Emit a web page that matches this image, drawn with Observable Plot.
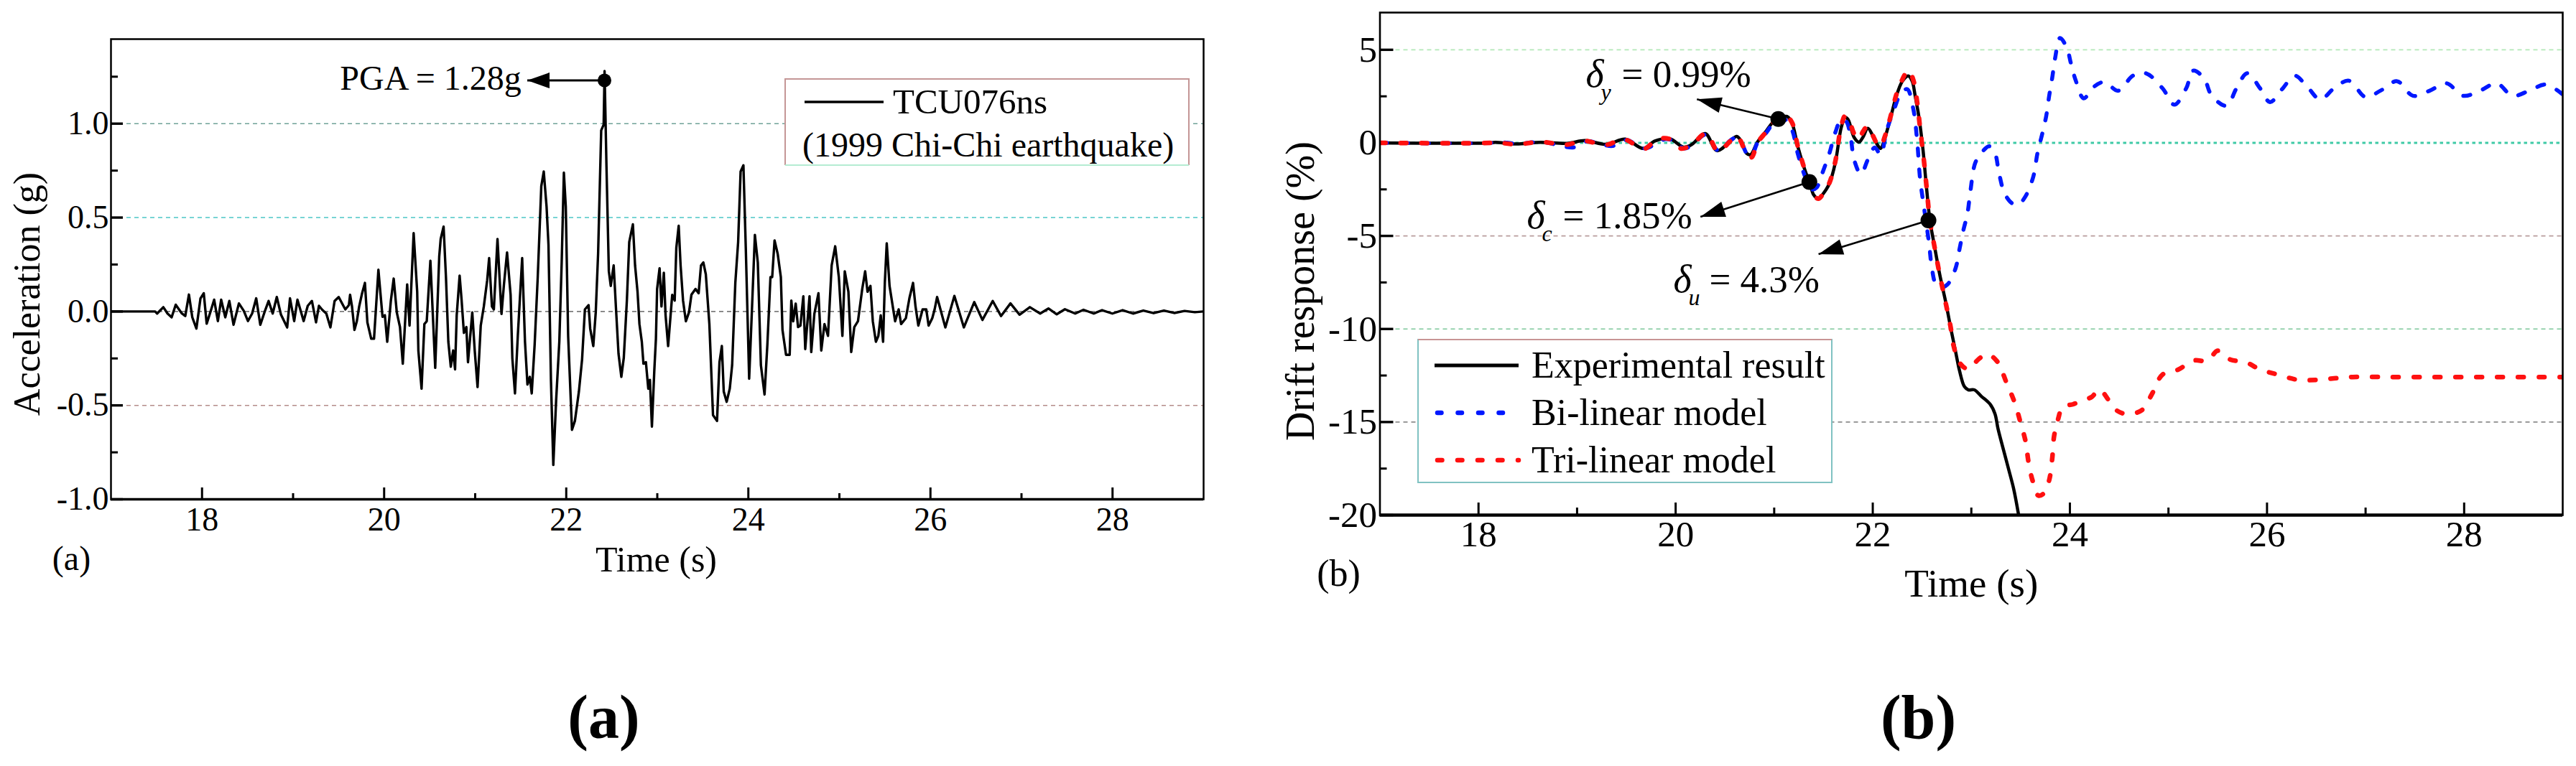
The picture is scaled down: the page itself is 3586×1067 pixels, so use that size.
<!DOCTYPE html>
<html>
<head>
<meta charset="utf-8">
<script src="https://cdn.jsdelivr.net/npm/d3@7"></script>
<script src="https://cdn.jsdelivr.net/npm/@observablehq/plot@0.6"></script>
<style>
  html, body { margin: 0; padding: 0; background: #fff; }
  #wrap { position: relative; width: 3586px; height: 1067px; overflow: hidden; background: #fff; }
  #wrap > svg { position: absolute; top: 0; }
</style>
</head>
<body>
<div id="wrap"></div>
<script>
// ---------------- DATA ----------------
const timeDomain = [17, 29];
const timeMajor = [18, 20, 22, 24, 26, 28];
const timeMinor = [19, 21, 23, 25, 27];

const accDomain = [-1, 1.45];
const accMajor = [-1.0, -0.5, 0, 0.5, 1.0];
const accMinor = [-0.75, -0.25, 0.25, 0.75, 1.25];
const accGridValues = [-0.5, 0, 0.5, 1.0];

const driftDomain = [-20, 7];
const driftMajor = [-20, -15, -10, -5, 0, 5];
const driftMinor = [-17.5, -12.5, -7.5, -2.5, 2.5];
const driftGridValues = [-15, -10, -5, 0, 5];

// TCU076ns ground acceleration (g) vs time (s)
const accel = [
[17,0],[17.485,0],[17.507,-0.011],[17.575,0.023],[17.621,-0.011],[17.666,-0.031],[17.711,0.036],[17.779,-0.011],[17.816,-0.024],[17.856,0.09],[17.893,-0.031],[17.938,-0.091],[17.983,0.07],[18.019,0.097],[18.051,-0.065],[18.096,0.003],[18.133,0.063],[18.174,-0.051],[18.21,0.063],[18.255,-0.031],[18.3,0.056],[18.346,-0.071],[18.405,0.043],[18.459,0.003],[18.504,-0.051],[18.55,-0.011],[18.595,0.07],[18.64,-0.071],[18.686,-0.004],[18.731,0.056],[18.776,-0.011],[18.821,0.077],[18.867,-0.017],[18.935,-0.085],[18.966,0.07],[19.012,-0.051],[19.048,0.063],[19.116,-0.051],[19.161,0.03],[19.207,0.056],[19.252,-0.058],[19.284,0.03],[19.32,0.009],[19.365,-0.011],[19.41,-0.085],[19.456,0.056],[19.501,0.077],[19.546,0.036],
[19.574,0.011],[19.613,0.034],[19.626,0.089],[19.647,0.027],[19.674,-0.098],[19.7,-0.052],[19.726,0.027],[19.758,0.097],[19.789,0.152],[19.816,-0.058],[19.858,-0.145],[19.889,-0.145],[19.937,0.222],[19.982,-0.028],[20.008,-0.02],[20.034,-0.161],[20.074,0.058],[20.105,0.175],[20.139,-0.005],[20.174,-0.083],[20.205,-0.278],[20.253,0.144],[20.279,-0.075],[20.324,0.417],[20.363,0.105],[20.376,-0.208],[20.411,-0.411],[20.442,-0.067],[20.468,-0.052],[20.508,0.27],[20.561,-0.3],[20.605,0.292],[20.621,0.386],[20.653,0.452],[20.679,0.183],[20.705,-0.161],[20.732,-0.294],[20.758,-0.208],[20.779,-0.308],[20.797,-0.02],[20.829,0.191],[20.85,0.066],[20.876,-0.114],[20.903,-0.083],[20.921,-0.27],[20.968,-0.005],[20.995,-0.208],[21.026,-0.402],[21.061,-0.075],[21.095,0.027],[21.132,0.167],[21.153,0.284],[21.184,0.027],[21.205,0.011],[21.245,0.386],[21.289,-0.013],[21.316,0.144],[21.35,0.314],[21.389,0.089],[21.408,-0.248],[21.437,-0.436],[21.468,-0.13],[21.516,0.284],[21.547,-0.161],[21.574,-0.389],[21.6,-0.348],[21.621,-0.436],[21.653,-0.177],[21.687,0.183],[21.726,0.667],[21.753,0.745],[21.784,0.558],[21.805,0.355],[21.832,-0.364],[21.858,-0.817],[21.889,-0.473],[21.924,-0.161],[21.95,0.261],[21.974,0.739],[21.995,0.558],[22.021,-0.13],[22.063,-0.63],[22.095,-0.583],[22.139,-0.427],[22.174,-0.255],[22.205,0.011],[22.245,0.034],[22.263,-0.091],[22.297,-0.184],[22.324,-0.005],[22.35,0.308],[22.384,0.964],[22.411,0.995],[22.421,1.28],[22.442,0.77],[22.468,0.214],[22.489,0.136],[22.521,0.245],[22.547,0.011],[22.574,-0.224],[22.605,-0.348],[22.632,-0.247],[22.666,0.058],[22.692,0.37],[22.732,0.464],
[22.756,0.245],[22.783,0.105],[22.804,-0.067],[22.83,-0.161],[22.848,-0.278],[22.875,-0.27],[22.901,-0.411],[22.919,-0.364],[22.941,-0.613],[22.967,-0.317],[22.985,-0.145],[22.998,0.12],[23.025,0.23],[23.046,0.027],[23.072,0.206],[23.091,-0.02],[23.119,-0.184],[23.164,0.089],[23.191,0.058],[23.209,0.339],[23.235,0.456],[23.256,0.245],[23.283,0.058],[23.314,-0.052],[23.348,-0.005],[23.375,0.089],[23.42,0.12],[23.454,0.097],[23.48,0.245],[23.506,0.261],[23.533,0.198],[23.572,-0.067],[23.612,-0.552],[23.656,-0.583],[23.683,-0.27],[23.709,-0.184],[23.73,-0.427],[23.762,-0.481],[23.796,-0.411],[23.822,-0.286],[23.857,0.152],[23.888,0.37],[23.915,0.745],[23.946,0.778],[23.972,0.338],[24.009,-0.358],[24.041,0.027],[24.072,0.408],[24.104,0.261],[24.138,-0.286],[24.178,-0.442],[24.209,-0.177],[24.243,0.183],[24.262,0.183],[24.288,0.378],[24.322,0.308],[24.357,0.183],[24.375,-0.098],[24.414,-0.231],[24.454,-0.231],[24.472,0.058],[24.493,-0.052],[24.52,0.042],[24.546,-0.083],[24.572,-0.075],[24.604,0.081],[24.625,-0.2],[24.672,0.081],[24.691,-0.216],[24.725,-0.013],[24.77,0.097],[24.801,-0.208],[24.836,-0.067],[24.875,-0.13],[24.915,0.245],[24.954,0.347],[24.994,0.183],[25.033,-0.13],[25.059,0.214],[25.099,0.105],[25.13,-0.216],[25.164,-0.083],[25.204,-0.052],[25.251,0.12],[25.283,0.214],[25.309,0.105],[25.341,0.136],[25.367,-0.052],[25.401,-0.161],[25.428,-0.13],[25.454,-0.02],[25.48,-0.161],[25.499,0.152],[25.52,0.363],[25.551,0.136],[25.586,0.027],[25.612,-0.052],[25.651,0.011],[25.678,-0.067],[25.73,-0.036],[25.77,0.073],[25.809,0.152],[25.836,0.027],[25.867,-0.075],[25.914,0.011],[25.954,0.011],[25.98,-0.075],[26.02,-0.036],[26.046,0.011],
[26.073,0.077],[26.164,-0.085],[26.263,0.083],[26.367,-0.085],[26.481,0.05],[26.571,-0.045],[26.684,0.056],[26.775,-0.024],[26.879,0.043],[26.979,-0.017],[27.092,0.023],[27.205,-0.011],[27.296,0.016],[27.387,-0.015],[27.477,0.012],[27.59,-0.011],[27.681,0.009],[27.794,-0.011],[27.885,0.007],[27.998,-0.011],[28.111,0.007],[28.225,-0.011],[28.338,0.005],[28.451,-0.009],[28.564,0.005],[28.677,-0.008],[28.791,0.003],[28.904,-0.004],[29,0]
];

// Drift response (%) vs time (s)
const driftExperimental = [
[17,0],[18.13,0],[18.17,0.03],[18.38,-0.06],[18.63,0.03],[18.9,-0.03],[19.08,0.12],[19.3,-0.08],[19.49,0.2],[19.67,-0.3],[19.79,0.1],[19.94,0.22],[20.08,-0.23],[20.16,-0.1],[20.3,0.5],[20.42,-0.42],[20.56,0.13],[20.62,0.35],[20.66,0.13],[20.72,-0.56],[20.76,-0.64],[20.83,0.04],[20.92,0.64],[20.98,1.07],[21.04,1.3],[21.13,1.42],[21.18,1.07],[21.24,-0.21],[21.32,-1.59],[21.36,-2.1],[21.4,-2.79],[21.45,-3.01],[21.5,-2.71],[21.56,-2.19],[21.62,-1.07],[21.68,0.82],[21.72,1.37],[21.75,1.25],[21.81,0.3],[21.86,0.04],[21.9,0.3],[21.95,0.78],[22.0,0.39],[22.05,-0.13],[22.08,-0.3],[22.12,0.21],[22.18,1.33],[22.24,2.53],[22.3,3.31],[22.36,3.6],[22.4,3.31],[22.43,2.53],[22.47,1.33],[22.51,-0.39],[22.54,-2.1],[22.58,-4.17],[22.62,-5.37],[22.68,-7.09],[22.74,-8.55],[22.79,-9.92],[22.84,-11.21],[22.88,-12.24],[22.93,-13.1],[22.97,-13.27],[23.03,-13.27],[23.1,-13.61],[23.19,-14.04],[23.24,-14.56],[23.27,-15.34],[23.32,-16.37],[23.38,-17.57],[23.43,-18.6],[23.48,-20]
];
const driftBilinear = [
[17,0],[18.13,0],[18.2,0.05],[18.4,-0.05],[18.63,0.05],[18.97,-0.24],[19.1,0.08],[19.36,-0.17],[19.5,0.15],[19.68,-0.3],[19.9,0.2],[20.0,0.05],[20.08,-0.3],[20.16,-0.15],[20.31,0.45],[20.43,-0.4],[20.56,0.15],[20.62,0.3],[20.66,0.1],[20.72,-0.55],[20.77,-0.7],[20.83,0.0],[20.92,0.55],[20.98,1.0],[21.04,1.3],[21.1,1.3],[21.18,0.7],[21.24,-0.6],[21.32,-1.9],[21.38,-2.5],[21.43,-2.4],[21.49,-1.6],[21.56,-0.56],[21.62,0.56],[21.68,1.25],[21.73,1.16],[21.78,0.13],[21.81,-0.9],[21.88,-1.68],[21.95,-0.9],[22.02,-0.25],[22.08,-0.64],[22.14,0.64],[22.22,1.85],[22.29,2.71],[22.35,2.88],[22.41,1.85],[22.45,0.13],[22.48,-1.93],[22.52,-3.48],[22.57,-5.37],[22.6,-6.74],[22.64,-7.6],[22.69,-7.77],[22.76,-7.6],[22.84,-6.74],[22.88,-5.71],[22.92,-4.68],[22.96,-3.82],[22.99,-2.62],[23.04,-1.07],[23.1,-0.56],[23.18,-0.18],[23.24,-0.56],[23.28,-1.6],[23.34,-2.75],[23.42,-3.27],[23.48,-3.3],[23.55,-2.87],[23.63,-1.79],[23.67,-0.58],[23.72,0.5],[23.76,1.45],[23.79,2.53],[23.82,3.47],[23.85,4.55],[23.9,5.63],[23.97,5.09],[24.01,4.28],[24.06,3.34],[24.14,2.39],[24.24,3.0],[24.35,3.27],[24.49,2.8],[24.64,3.61],[24.77,3.74],[24.94,2.93],[25.06,2.05],[25.18,2.93],[25.25,3.88],[25.36,3.47],[25.44,2.53],[25.59,1.99],[25.69,2.93],[25.8,3.74],[25.93,2.93],[26.03,2.19],[26.16,2.93],[26.28,3.61],[26.41,3.0],[26.54,2.33],[26.68,2.93],[26.83,3.34],[27.0,2.46],[27.15,2.8],[27.32,3.31],[27.48,2.53],[27.65,2.8],[27.82,3.2],[27.99,2.53],[28.16,2.8],[28.33,3.2],[28.49,2.53],[28.66,2.8],[28.83,3.13],[29,2.6]
];
const driftTrilinear = [
[17,0],[18.13,0],[18.17,0.03],[18.38,-0.08],[18.63,0.05],[18.9,-0.1],[19.05,0.12],[19.3,-0.1],[19.47,0.2],[19.68,-0.32],[19.8,0.15],[19.93,0.22],[20.05,-0.3],[20.16,-0.12],[20.31,0.5],[20.43,-0.45],[20.56,0.12],[20.62,0.36],[20.66,0.1],[20.72,-0.6],[20.77,-0.78],[20.83,0.0],[20.92,0.6],[20.98,1.05],[21.04,1.3],[21.12,1.45],[21.18,1.1],[21.24,-0.2],[21.32,-1.6],[21.36,-2.15],[21.4,-2.8],[21.45,-3.0],[21.5,-2.7],[21.56,-2.15],[21.62,-1.0],[21.68,0.9],[21.72,1.45],[21.76,1.2],[21.81,0.5],[21.86,0.2],[21.9,0.6],[21.95,0.9],[22.0,0.4],[22.05,-0.1],[22.08,-0.2],[22.12,0.3],[22.18,1.4],[22.24,2.6],[22.3,3.4],[22.36,3.91],[22.41,3.4],[22.45,2.2],[22.48,0.8],[22.52,-1.0],[22.55,-2.6],[22.58,-4.2],[22.62,-5.4],[22.68,-7.1],[22.74,-8.6],[22.79,-9.9],[22.82,-10.9],[22.88,-11.81],[22.97,-12.16],[23.07,-11.64],[23.16,-11.35],[23.26,-11.73],[23.36,-12.93],[23.44,-13.96],[23.5,-15.05],[23.55,-16.03],[23.58,-17.14],[23.62,-18.12],[23.68,-18.95],[23.74,-18.81],[23.79,-18.12],[23.82,-17.0],[23.84,-15.75],[23.88,-14.85],[23.93,-14.15],[24.03,-14.05],[24.14,-13.8],[24.22,-13.66],[24.3,-13.25],[24.39,-13.8],[24.47,-14.36],[24.58,-14.57],[24.73,-14.36],[24.83,-13.52],[24.94,-12.45],[25.1,-12.18],[25.25,-11.7],[25.4,-11.7],[25.5,-11.17],[25.63,-11.65],[25.78,-11.77],[25.93,-12.18],[26.11,-12.45],[26.3,-12.72],[26.49,-12.74],[26.68,-12.65],[26.87,-12.58],[27.2,-12.58],[27.6,-12.58],[28.0,-12.58],[28.4,-12.58],[28.8,-12.58],[29,-12.58]
];

// Annotated values
const pga = {t: 22.42, g: 1.23, label: "PGA = 1.28g"};
const driftLimits = [
  {sym: "y", value: "0.99%", t: 21.042, d: 1.28},
  {sym: "c", value: "1.85%", t: 21.357, d: -2.10},
  {sym: "u", value: "4.3%",  t: 22.565, d: -4.17}
];
const legendA = ["TCU076ns", "(1999 Chi-Chi earthquake)"];
const legendB = ["Experimental result", "Bi-linear model", "Tri-linear model"];

// ---------------- LAYOUT / STYLE ----------------
const H = 1067;
const WA = 1770, mA = {left: 154, right: 95, top: 54, bottom: 372};
const WB = 1816, offB = 1770, mB = {left: 150.5, right: 19, top: 17, bottom: 350};
const font = "Liberation Serif, Times New Roman, serif";
const gridColA = {"-0.5": "#b48c8a", "0": "#7c7c7c", "0.5": "#4cc6c6", "1": "#6fa197"};
const gridColB = {"-15": "#8c8c8c", "-10": "#7cc79a", "-5": "#b89c9c", "0": "#3ecaa6", "5": "#b2e8b8"};
const pgaCallout = {tipT: 21.572, labT: 21.507, labG: 1.182};
const driftCallouts = [
  {tipT: 20.216, tipD: 2.34, labT: 19.088, labD: 2.99},
  {tipT: 20.252, tipD: -3.97, labT: 18.491, labD: -4.60},
  {tipT: 21.45, tipD: -5.98, labT: 19.977, labD: -8.03}
];

// arrowhead symbol (tip at origin)
function head(dir, L, hw) {
  const [ux, uy] = dir;
  return {
    draw(ctx) {
      const bx = -ux * L, by = -uy * L;
      ctx.moveTo(0, 0);
      ctx.lineTo(bx - uy * hw, by + ux * hw);
      ctx.lineTo(bx + uy * hw, by - ux * hw);
      ctx.closePath();
    }
  };
}
function dirOf(xs, ys, x1, y1, x2, y2) {
  const dx = xs(x2) - xs(x1), dy = ys(y2) - ys(y1);
  const n = Math.hypot(dx, dy);
  return [dx / n, dy / n];
}
// inward tick marks drawn as short rules; lengths in px converted through the same scales
function tickMarks(xs, ys, xMajor, xMinor, yMajor, yMinor, lenX, lenXm, lenY, lenYm, w) {
  const x0 = xs.domain()[0], y0 = ys.domain()[0];
  const yUp = len => ys.invert(ys(y0) - len);
  const xIn = len => xs.invert(xs(x0) + len);
  return [
    Plot.ruleX(xMajor, {x: d => d, y1: () => y0, y2: () => yUp(lenX), stroke: "black", strokeWidth: w}),
    Plot.ruleX(xMinor, {x: d => d, y1: () => y0, y2: () => yUp(lenXm), stroke: "black", strokeWidth: w}),
    Plot.ruleY(yMajor, {y: d => d, x1: () => x0, x2: () => xIn(lenY), stroke: "black", strokeWidth: w + 0.4}),
    Plot.ruleY(yMinor, {y: d => d, x1: () => x0, x2: () => xIn(lenYm), stroke: "black", strokeWidth: w})
  ];
}

const wrap = document.getElementById("wrap");

// ---------------- PANEL (a) ----------------
const xsA = d3.scaleLinear(timeDomain, [mA.left, WA - mA.right]);
const ysA = d3.scaleLinear(accDomain, [H - mA.bottom, mA.top]);

const plotA = Plot.plot({
  width: WA, height: H,
  marginLeft: mA.left, marginRight: mA.right, marginTop: mA.top, marginBottom: mA.bottom,
  style: {fontFamily: font, fontSize: "46px", background: "transparent", overflow: "visible", color: "black"},
  x: {domain: timeDomain, ticks: timeMajor, tickSize: 0, tickPadding: 11, tickFormat: d => String(d), label: null},
  y: {domain: accDomain, ticks: accMajor, tickSize: 0, tickPadding: 3, tickFormat: d => d.toFixed(1), label: null},
  marks: [
    ...accGridValues.map(v => Plot.ruleY([v], {stroke: gridColA[String(v)], strokeWidth: 1.6, strokeDasharray: "6,5"})),
    ...tickMarks(xsA, ysA, timeMajor, timeMinor, accMajor, accMinor, 16, 8, 17, 10, 3),
    Plot.line(accel, {x: d => d[0], y: d => d[1], stroke: "black", strokeWidth: 3.4, strokeLinejoin: "round", clip: true}),
    Plot.link([pga], {x1: "t", y1: "g", x2: () => pgaCallout.tipT, y2: "g", stroke: "black", strokeWidth: 3}),
    Plot.dot([pga], {x: () => pgaCallout.tipT, y: "g", r: 5,
      symbol: head(dirOf(xsA, ysA, pga.t, pga.g, pgaCallout.tipT, pga.g), 31, 11), fill: "black", stroke: "none"}),
    Plot.dot([pga], {x: "t", y: "g", r: 9.5, fill: "black", stroke: "none"}),
    Plot.text([pga], {x: () => pgaCallout.labT, y: () => pgaCallout.labG, text: "label", textAnchor: "end", lineAnchor: "bottom", fontSize: 48}),
    Plot.frame({stroke: "black", strokeWidth: 2.5}),
    Plot.ruleY([accDomain[0]], {stroke: "black", strokeWidth: 3.5}),
    Plot.text(["Acceleration (g)"], {frameAnchor: "left", dx: -116, dy: 34.5, rotate: -90, textAnchor: "middle", lineAnchor: "middle", fontSize: 52}),
    Plot.text(["Time (s)"], {frameAnchor: "bottom", dx: -1.5, dy: 100, lineAnchor: "bottom", fontSize: 50}),
    Plot.text(["(a)"], {frameAnchor: "bottom-left", dx: -55, dy: 98, textAnchor: "middle", lineAnchor: "bottom", fontSize: 48}),
    Plot.text(["(a)"], {frameAnchor: "bottom", dx: -74.5, dy: 332, textAnchor: "middle", lineAnchor: "bottom", fontSize: 86, fontWeight: "bold"})
  ]
});
plotA.style.left = "0px";
wrap.appendChild(plotA);

// ---------------- PANEL (b) ----------------
const xsB = d3.scaleLinear(timeDomain, [mB.left, WB - mB.right]);
const ysB = d3.scaleLinear(driftDomain, [H - mB.bottom, mB.top]);
const ann = driftLimits.map((d, i) => ({...d, ...driftCallouts[i]}));

const plotB = Plot.plot({
  width: WB, height: H,
  marginLeft: mB.left, marginRight: mB.right, marginTop: mB.top, marginBottom: mB.bottom,
  style: {fontFamily: font, fontSize: "51px", background: "transparent", overflow: "visible", color: "black"},
  x: {domain: timeDomain, ticks: timeMajor, tickSize: 0, tickPadding: 7, tickFormat: d => String(d), label: null},
  y: {domain: driftDomain, ticks: driftMajor, tickSize: 0, tickPadding: 4, tickFormat: d => String(d), label: null},
  marks: [
    ...driftGridValues.map(v => v === 0
      ? Plot.ruleY([v], {stroke: gridColB["0"], strokeWidth: 3, strokeDasharray: "4.5,4.5"})
      : Plot.ruleY([v], {stroke: gridColB[String(v)], strokeWidth: 1.6, strokeDasharray: "6,5"})),
    ...tickMarks(xsB, ysB, timeMajor, timeMinor, driftMajor, driftMinor, 17, 10, 19, 10, 3),
    Plot.line(driftExperimental, {x: d => d[0], y: d => d[1], stroke: "black", strokeWidth: 4.5, curve: "catmull-rom", clip: true}),
    Plot.line(driftBilinear, {x: d => d[0], y: d => d[1], stroke: "#0018ff", strokeWidth: 5.5, strokeDasharray: "10,19", strokeLinecap: "round", curve: "catmull-rom", clip: true}),
    Plot.line(driftTrilinear, {x: d => d[0], y: d => d[1], stroke: "#ff1010", strokeWidth: 6.5, strokeDasharray: "8,21", strokeLinecap: "round", curve: "catmull-rom", clip: true}),
    Plot.link(ann, {x1: "t", y1: "d", x2: "tipT", y2: "tipD", stroke: "black", strokeWidth: 2.6}),
    ...ann.map(a => Plot.dot([a], {x: "tipT", y: "tipD", r: 5,
      symbol: head(dirOf(xsB, ysB, a.t, a.d, a.tipT, a.tipD), 34, 11), fill: "black", stroke: "none"})),
    Plot.dot(ann, {x: "t", y: "d", r: 11, fill: "black", stroke: "none"}),
    Plot.text(ann, {x: "labT", y: "labD", text: () => "δ", fontStyle: "italic", fontSize: 54, textAnchor: "start", lineAnchor: "bottom"}),
    Plot.text(ann, {x: "labT", y: "labD", text: "sym", dx: 21, dy: 18, fontStyle: "italic", fontSize: 32, textAnchor: "start", lineAnchor: "bottom"}),
    Plot.text(ann, {x: "labT", y: "labD", text: d => "= " + d.value, dx: 50, fontSize: 53, textAnchor: "start", lineAnchor: "bottom"}),
    Plot.frame({stroke: "black", strokeWidth: 2.6}),
    Plot.ruleY([driftDomain[0]], {stroke: "black", strokeWidth: 4.5}),
    Plot.text(["Drift response (%)"], {frameAnchor: "left", dx: -109.5, dy: 38, rotate: -90, textAnchor: "middle", lineAnchor: "middle", fontSize: 56}),
    Plot.text(["Time (s)"], {frameAnchor: "bottom", dx: 0, dy: 113, lineAnchor: "bottom", fontSize: 55}),
    Plot.text(["(b)"], {frameAnchor: "bottom-left", dx: -57.5, dy: 98.5, textAnchor: "middle", lineAnchor: "bottom", fontSize: 52}),
    Plot.text(["(b)"], {frameAnchor: "bottom", dx: -73.75, dy: 310, textAnchor: "middle", lineAnchor: "bottom", fontSize: 86, fontWeight: "bold"})
  ]
});
plotB.style.left = offB + "px";
wrap.appendChild(plotB);

// ---------------- LEGENDS (overlay) ----------------
const ov = d3.select(wrap).append("svg")
  .attr("width", 3586).attr("height", H)
  .style("position", "absolute").style("left", "0px").style("top", "0px")
  .style("font-family", font);

// legend (a)
{
  const x = 1093, y = 110, w = 562, h = 120;
  ov.append("rect").attr("x", x).attr("y", y).attr("width", w).attr("height", h).attr("fill", "white");
  ov.append("path").attr("d", `M${x},${y + h}V${y}H${x + w}V${y + h}`).attr("fill", "none").attr("stroke", "#c49696").attr("stroke-width", 2);
  ov.append("line").attr("x1", x).attr("x2", x + w).attr("y1", y + h).attr("y2", y + h).attr("stroke", "#b4ecd2").attr("stroke-width", 2);
  ov.append("line").attr("x1", 1120).attr("x2", 1230).attr("y1", 142).attr("y2", 142).attr("stroke", "black").attr("stroke-width", 3.5);
  ov.append("text").attr("x", 1243).attr("y", 158).attr("font-size", 49).text(legendA[0]);
  ov.append("text").attr("x", 1117).attr("y", 218).attr("font-size", 48).text(legendA[1]);
}
// legend (b)
{
  const x = 1974, y = 473, w = 576, h = 199;
  ov.append("rect").attr("x", x).attr("y", y).attr("width", w).attr("height", h).attr("fill", "white")
    .attr("stroke", "#80c2c2").attr("stroke-width", 2);
  ov.append("line").attr("x1", x).attr("x2", x + w).attr("y1", y).attr("y2", y).attr("stroke", "#c89494").attr("stroke-width", 2);
  const rows = [509, 575, 641], base = [526, 592, 658];
  const styles = [
    {stroke: "black", width: 5, dash: null},
    {stroke: "#0018ff", width: 6.5, dash: "5.5,23"},
    {stroke: "#ff1010", width: 6.5, dash: "6.5,21.5"}
  ];
  legendB.forEach((label, i) => {
    const s = styles[i];
    const ln = ov.append("line").attr("x1", s.dash ? 2001 : 1997).attr("x2", 2114).attr("y1", rows[i]).attr("y2", rows[i])
      .attr("stroke", s.stroke).attr("stroke-width", s.width).attr("stroke-linecap", s.dash ? "round" : "butt");
    if (s.dash) ln.attr("stroke-dasharray", s.dash);
    ov.append("text").attr("x", 2132).attr("y", base[i]).attr("font-size", 52).text(label);
  });
}
</script>
</body>
</html>
